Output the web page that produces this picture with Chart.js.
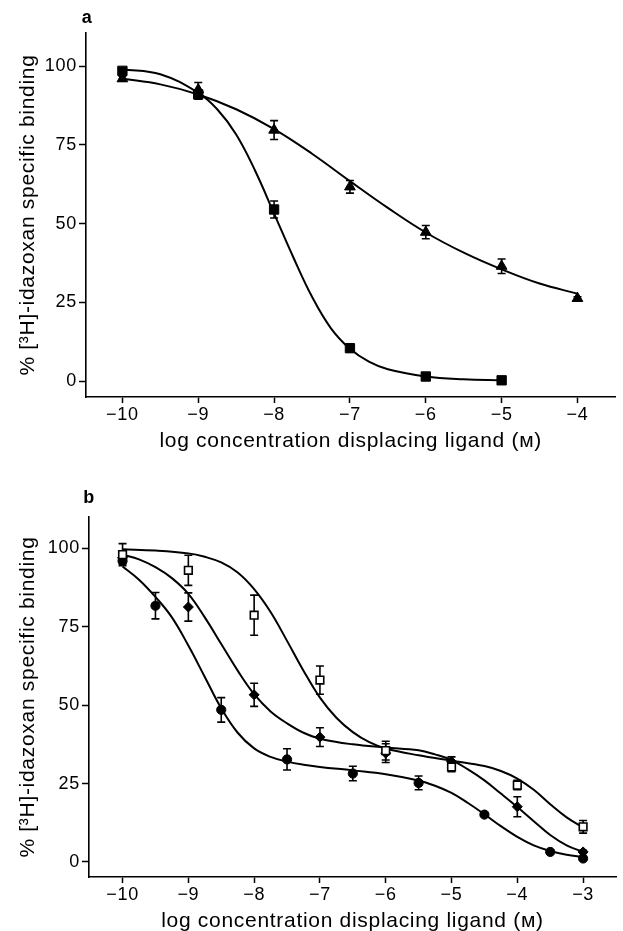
<!DOCTYPE html>
<html><head><meta charset="utf-8">
<script src="https://cdn.jsdelivr.net/npm/chart.js@4.4.0/dist/chart.umd.min.js"></script>
<style>
html,body{margin:0;padding:0;background:#fff;width:623px;height:931px;overflow:hidden;}
canvas{position:absolute;left:0;}
#ca{top:0;}
#cb{top:451px;}
</style></head><body>
<canvas id="ca" width="623" height="451"></canvas>
<canvas id="cb" width="623" height="480"></canvas>
<script>
// ---------- tick labels ----------
const yTicks = [0, 25, 50, 75, 100];
const yTickLabels = ['0', '25', '50', '75', '100'];
const xTicksA = [-10, -9, -8, -7, -6, -5, -4];
const xTickLabelsA = ['\u221210', '\u22129', '\u22128', '\u22127', '\u22126', '\u22125', '\u22124'];
const xTicksB = [-10, -9, -8, -7, -6, -5, -4, -3];
const xTickLabelsB = ['\u221210', '\u22129', '\u22128', '\u22127', '\u22126', '\u22125', '\u22124', '\u22123'];
const xTitle = 'log concentration displacing ligand (\u1D0D)';
const yTitle = '% [\u00B3H]-idazoxan specific binding';

// ---------- panel a : measured points ----------
const aSquareX = [-10, -9, -8, -7, -6, -5];
const aSquareY = [98.5, 91, 54.5, 10.5, 1.5, 0.3];
const aSquareErr = [0.8, 1.5, 2.7, 1.2, 0.5, 0.4];
const aTriX = [-10, -9, -8, -7, -6, -5, -4];
const aTriY = [96, 92.5, 79.7, 61.7, 47.3, 36.5, 26.3];
const aTriErr = [0.8, 2.3, 3, 2, 2.1, 2.3, 0.5];
// panel a : fitted curves
const aSquareFitX = [-10, -9.5, -9, -8.75, -8.5, -8.25, -8, -7.75, -7.5, -7.25, -7, -6.75, -6.5, -6, -5.5, -5];
const aSquareFitY = [99, 97.4, 91.5, 86.3, 78.3, 66.8, 53.2, 39.5, 26.8, 16.8, 10.3, 6.2, 3.8, 1.5, 0.6, 0.3];
const aTriFitX = [-10, -9.5, -9, -8.5, -8, -7.5, -7, -6.5, -6, -5.5, -5, -4.5, -4];
const aTriFitY = [96, 94.2, 91, 86.3, 80, 72.2, 63.5, 55, 47.2, 40.8, 35.5, 31, 27.8];

// ---------- panel b : measured points ----------
const bSqX = [-10, -9, -8, -7, -6, -5, -4, -3];
const bSqY = [98, 93, 78.7, 58, 35.5, 30.3, 24.5, 11.2];
const bSqErr = [3.5, 4.8, 6.4, 4.5, 3, 1.5, 1.5, 2];
const bDiaX = [-10, -9, -8, -7, -6, -5, -4, -3];
const bDiaY = [97, 81.3, 53.3, 39.8, 34.7, 32, 17.6, 3.2];
const bDiaErr = [1, 4.5, 3.7, 3, 3, 1.5, 3.2, 0.5];
const bCirX = [-10, -9.5, -8.5, -7.5, -6.5, -5.5, -4.5, -3.5, -3];
const bCirY = [96, 81.7, 48.5, 32.7, 28.2, 25.2, 15.1, 3.2, 1.1];
const bCirErr = [1, 4.2, 3.9, 3.4, 2.3, 2.2, 0.5, 0.5, 0.5];
// panel b : fitted curves
const bSqFitX = [-10, -9.5, -9, -8.75, -8.5, -8.25, -8, -7.75, -7.5, -7.25, -7, -6.75, -6.5, -6.25, -6, -5.5, -5, -4.5, -4.25, -4, -3.75, -3.5, -3.25, -3];
const bSqFitY = [99.7, 99.3, 98.4, 97.3, 95.5, 92.3, 87, 79.7, 70.5, 61, 52.4, 46, 41.4, 38.2, 36.2, 34, 32.3, 30.6, 29, 26.6, 23, 18.4, 14.2, 11];
const bDiaFitX = [-10, -9.75, -9.5, -9.25, -9, -8.75, -8.5, -8.25, -8, -7.75, -7.5, -7.25, -7, -6.5, -6, -5.5, -5.25, -5, -4.75, -4.5, -4.25, -4, -3.75, -3.5, -3.25, -3];
const bDiaFitY = [98, 96.5, 94, 90.5, 85.5, 78, 69.5, 61, 53.5, 48, 44.2, 41.2, 39.3, 37.5, 36.5, 35.6, 34.3, 32.5, 29.5, 26, 21.8, 17.5, 13, 8.6, 5.3, 3.2];
const bCirFitX = [-10, -9.75, -9.5, -9.25, -9, -8.75, -8.5, -8.25, -8, -7.75, -7.5, -7.25, -7, -6.5, -6, -5.5, -5.25, -5, -4.75, -4.5, -4.25, -4, -3.75, -3.5, -3.25, -3];
const bCirFitY = [94.2, 90, 84.5, 78, 69, 59, 49, 41.2, 36.2, 33.5, 32, 31, 30.3, 29.2, 28, 26, 24.3, 22, 18.8, 15.2, 11.4, 8, 5.3, 3.5, 2.3, 1.6];

// ---------- helpers ----------
const FONT = "'Liberation Sans', Arial, 'DejaVu Sans', sans-serif";
const TRACK = '0.7px';
const zip = (xs, ys) => xs.map((x, i) => ({x: x, y: ys[i]}));

const tracking = {
  id: 'tracking',
  beforeLayout(chart) { chart.ctx.letterSpacing = TRACK; },
  beforeDraw(chart) { chart.ctx.letterSpacing = TRACK; }
};

const errorBars = {
  id: 'errorBars',
  beforeDatasetsDraw(chart) {
    const ctx = chart.ctx, ys = chart.scales.y;
    chart.data.datasets.forEach((ds, di) => {
      if (!ds.errors) return;
      const meta = chart.getDatasetMeta(di);
      ctx.save();
      ctx.strokeStyle = '#000';
      ctx.lineWidth = 1.6;
      meta.data.forEach((pt, i) => {
        const e = ds.errors[i];
        if (!e) return;
        const v = ds.data[i].y;
        const t = ys.getPixelForValue(v + e), b = ys.getPixelForValue(v - e);
        const x = pt.x, c = 4;
        ctx.beginPath();
        ctx.moveTo(x, t); ctx.lineTo(x, b);
        ctx.moveTo(x - c, t); ctx.lineTo(x + c, t);
        ctx.moveTo(x - c, b); ctx.lineTo(x + c, b);
        ctx.stroke();
      });
      ctx.restore();
    });
  }
};

const panelLabel = {
  id: 'panelLabel',
  afterDraw(chart, args, opts) {
    const ctx = chart.ctx;
    ctx.save();
    ctx.font = 'bold 18px ' + FONT;
    ctx.fillStyle = '#000';
    ctx.textAlign = 'center';
    ctx.textBaseline = 'middle';
    ctx.fillText(opts.text, opts.x, opts.y);
    ctx.restore();
  }
};

function pointSet(xs, ys, errs, style, radius, fill, bw) {
  return {data: zip(xs, ys), errors: errs, showLine: false, pointStyle: style,
    pointRadius: radius, pointBackgroundColor: fill, pointBorderColor: '#000',
    pointBorderWidth: bw, order: 0};
}
function curveSet(xs, ys) {
  return {data: zip(xs, ys), showLine: true, pointRadius: 0, borderColor: '#000',
    borderWidth: 2, tension: 0.4, fill: false, order: 1};
}

function makeChart(el, datasets, cfg) {
  return new Chart(el, {
    type: 'scatter',
    data: {datasets: datasets},
    plugins: [tracking, errorBars, panelLabel],
    options: {
      responsive: false, animation: false, devicePixelRatio: 1,
      layout: {padding: {top: cfg.padTop, left: 0, right: 0, bottom: 0}},
      plugins: {legend: {display: false}, tooltip: {enabled: false},
        panelLabel: cfg.label},
      scales: {
        x: {
          type: 'linear', min: cfg.xmin, max: cfg.xmax,
          afterBuildTicks: s => { s.ticks = cfg.xticks.map(v => ({value: v})); },
          afterFit: s => { s.height = 54; },
          ticks: {autoSkip: false, maxRotation: 0, padding: 1, color: '#000',
            font: {family: FONT, size: 18},
            callback: v => cfg.xlabels[cfg.xticks.indexOf(v)]},
          grid: {drawOnChartArea: false, drawTicks: true, tickLength: 6, tickWidth: 1.5, tickColor: '#000'},
          border: {display: true, color: '#000', width: 1.6},
          title: {display: true, text: xTitle, color: '#000', font: {family: FONT, size: 21},
            padding: {top: 0, bottom: -3}}
        },
        y: {
          type: 'linear', min: cfg.ymin, max: cfg.ymax,
          afterBuildTicks: s => { s.ticks = yTicks.map(v => ({value: v})); },
          afterFit: s => { s.width = cfg.yw; },
          ticks: {padding: 2, color: '#000', font: {family: FONT, size: 18},
            callback: v => yTickLabels[yTicks.indexOf(v)]},
          grid: {drawOnChartArea: false, drawTicks: true, tickLength: 7, tickWidth: 1.5, tickColor: '#000'},
          border: {display: true, color: '#000', width: 1.6},
          title: {display: true, text: yTitle, color: '#000', font: {family: FONT, size: 21},
            padding: {top: 16, bottom: 0}}
        }
      }
    }
  });
}

makeChart(document.getElementById('ca'), [
  pointSet(aSquareX, aSquareY, aSquareErr, 'rect', 6.6, '#000', 1),
  pointSet(aTriX, aTriY, aTriErr, 'triangle', 6.2, '#000', 1),
  curveSet(aSquareFitX, aSquareFitY),
  curveSet(aTriFitX, aTriFitY)
], {padTop: 33, xmin: -10.48, xmax: -3.5, ymin: -5, ymax: 110.5, yw: 86,
    xticks: xTicksA, xlabels: xTickLabelsA, label: {text: 'a', x: 87, y: 18}});

makeChart(document.getElementById('cb'), [
  pointSet(bSqX, bSqY, bSqErr, 'rect', 5.4, '#fff', 1.6),
  pointSet(bDiaX, bDiaY, bDiaErr, 'rectRot', 5, '#000', 1),
  pointSet(bCirX, bCirY, bCirErr, 'circle', 4.6, '#000', 1),
  curveSet(bSqFitX, bSqFitY),
  curveSet(bDiaFitX, bDiaFitY),
  curveSet(bCirFitX, bCirFitY)
], {padTop: 66, xmin: -10.51, xmax: -2.5, ymin: -4.8, ymax: 110, yw: 89,
    xticks: xTicksB, xlabels: xTickLabelsB, label: {text: 'b', x: 89, y: 47}});
</script>
</body></html>
